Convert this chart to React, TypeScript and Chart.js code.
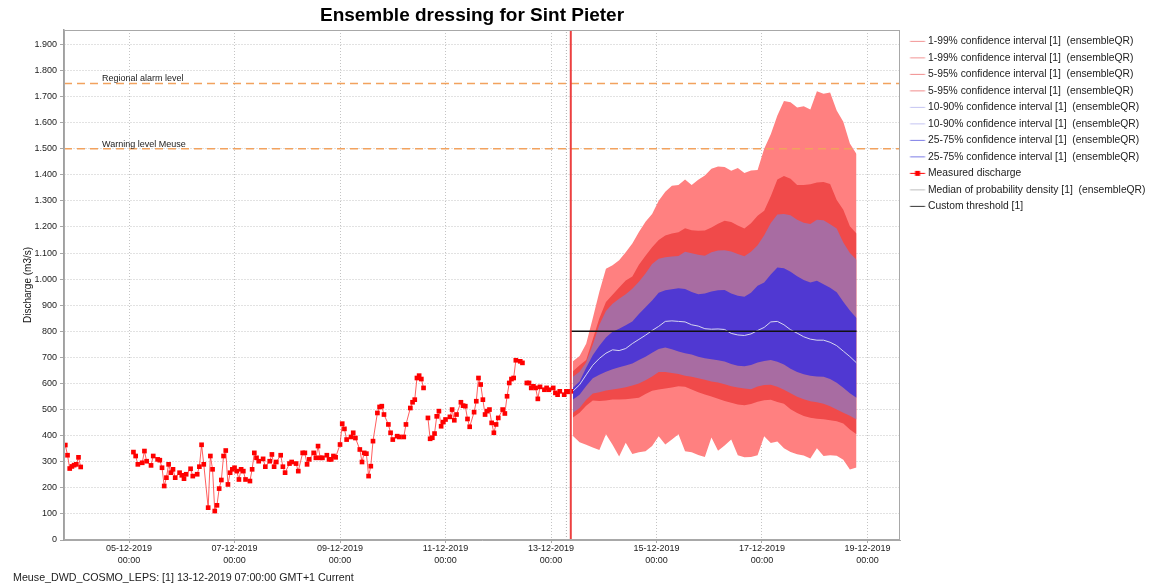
import React, { useEffect, useRef } from 'react';
import { Chart, registerables } from 'chart.js';

Chart.register(...registerables);

const FONT = "'Liberation Sans', Arial, sans-serif";
const TITLE = 'Ensemble dressing for Sint Pieter';
const FOOTNOTE = 'Meuse_DWD_COSMO_LEPS: [1] 13-12-2019 07:00:00 GMT+1 Current';

// x values are hours since 01-12-2019 00:00
const X_MIN = 66.4;
const X_MAX = 446.8;
const Y_MIN = 0;
const Y_MAX = 1955;

const xTickHours = [96, 144, 192, 240, 288, 336, 384, 432];
const xTickLabels = [
  ['05-12-2019', '00:00'],
  ['07-12-2019', '00:00'],
  ['09-12-2019', '00:00'],
  ['11-12-2019', '00:00'],
  ['13-12-2019', '00:00'],
  ['15-12-2019', '00:00'],
  ['17-12-2019', '00:00'],
  ['19-12-2019', '00:00'],
];
const yTickValues = [0, 100, 200, 300, 400, 500, 600, 700, 800, 900, 1000, 1100, 1200, 1300, 1400, 1500, 1600, 1700, 1800, 1900];

const measuredHours = [
  67, 68, 69, 70, 71, 72, 73, 74, 75,
  98, 99, 100, 102, 103, 104, 106, 107, 109, 110, 111, 112, 113, 114, 115, 116, 117, 119, 120, 121, 122, 124, 125, 127, 128, 129, 130,
  132, 133, 134, 135, 136, 137, 138, 139, 140, 141, 142, 143, 144, 145, 146, 147, 148, 149, 151, 152, 153, 154, 155, 157, 158, 160, 161,
  162, 163, 165, 166, 167, 169, 170, 172, 173, 175, 176, 177, 178, 180, 181, 182, 183, 184, 186, 187, 188, 189, 190, 192, 193, 194, 195,
  197, 198, 199, 201, 202, 203, 204, 205, 206, 207, 209, 210, 211, 212, 214, 215, 216, 218, 219, 221, 222, 224, 225, 226, 227, 228, 229,
  230, 231, 232, 233, 234, 235, 236, 237, 238, 239, 240, 242, 243, 244, 245, 247, 248, 249, 250, 251, 253, 254, 255, 256, 257, 258, 259,
  260, 261, 262, 263, 264, 266, 267, 268, 269, 270, 271, 272, 274, 275, 276, 277, 278, 279, 280, 281, 282, 283, 285, 286, 287, 289, 290,
  291, 292, 294, 295, 296, 297,
];
const measuredValues = [
  364, 325, 274, 282, 287, 290, 317, 280, null,
  337, 322, 290, 296, 341, 302, 286, 322, 309, 306, 277, 207, 239, 290, 258, 271, 239, 258, 248, 235, 252, 273, 245, 252, 281, 365, 290,
  124, 322, 271, 111, 133, 197, 230, 322, 343, 213, 258, 271, 277, 264, 232, 271, 264, 232, 226, 271, 334, 315, 302, 311, 281, 302, 328,
  281, 299, 325, 281, 258, 293, 299, 293, 264, 334, 334, 290, 309, 334, 315, 360, 315, 315, 325, 309, 309, 322, 317, 366, 446, 426, 385,
  395, 411, 391, 347, 299, 334, 331, 245, 283, 379, 487, 510, 513, 481, 443, 411, 385, 398, 395, 395, 443, 506, 528, 538, 621, 630, 617,
  583, null, 468, 388, 392, 408, 474, 494, 436, 452, 462, 472, 500, 459, 481, 528, 515, 513, 464, 434, 490, 532, 621, 596, 538, 481, 494,
  500, 449, 411, 443, 468, 500, 485, 551, 602, 617, 621, 689, 685, 679, null, 602, 602, 583, 589, 583, 541, 587, 576, 583, 576, 583, 564,
  557, 570, 557, 570, 568, 570,
];

const bandHours = [298, 301, 304, 307, 310, 313, 316, 319, 322, 325, 328, 331, 334, 337, 340, 343, 346, 349, 352, 355, 358, 361, 364, 367, 370, 373, 376, 379, 382, 385, 388, 391, 394, 397, 400, 403, 406, 409, 412, 415, 418, 421, 424, 427];
const p99 = [685, 705, 752, 850, 952, 1040, 1053, 1072, 1103, 1137, 1181, 1220, 1250, 1300, 1335, 1358, 1361, 1382, 1361, 1381, 1397, 1423, 1432, 1430, 1415, 1426, 1407, 1416, 1418, 1500, 1555, 1627, 1683, 1678, 1658, 1663, 1650, 1720, 1711, 1715, 1646, 1603, 1520, 1480];
const p95 = [647, 670, 690, 770, 850, 912, 940, 968, 995, 1010, 1055, 1090, 1122, 1150, 1167, 1175, 1180, 1195, 1187, 1185, 1186, 1198, 1212, 1224, 1219, 1206, 1194, 1214, 1243, 1262, 1318, 1382, 1395, 1385, 1361, 1361, 1364, 1370, 1372, 1365, 1303, 1266, 1203, 1175];
const p90 = [626, 645, 680, 748, 825, 878, 906, 925, 942, 963, 990, 1022, 1058, 1078, 1084, 1087, 1089, 1105, 1099, 1093, 1090, 1103, 1110, 1111, 1106, 1096, 1088, 1105, 1130, 1168, 1215, 1248, 1250, 1245, 1228, 1216, 1211, 1228, 1226, 1210, 1194, 1140, 1100, 1074];
const p75 = [584, 608, 660, 708, 745, 776, 798, 810, 823, 838, 866, 892, 918, 948, 957, 961, 965, 962, 951, 942, 945, 953, 957, 958, 945, 936, 932, 948, 975, 987, 1018, 1045, 1042, 1028, 1011, 997, 987, 994, 980, 967, 950, 913, 880, 851];
const median = [571, 595, 633, 670, 696, 716, 729, 726, 734, 753, 769, 785, 803, 819, 838, 840, 838, 836, 825, 820, 810, 808, 809, 807, 792, 786, 784, 790, 803, 815, 836, 838, 825, 806, 793, 779, 770, 766, 766, 758, 745, 724, 703, 679];
const p25 = [539, 557, 590, 620, 633, 645, 655, 662, 669, 677, 690, 702, 718, 732, 738, 731, 723, 716, 711, 702, 697, 693, 689, 684, 675, 668, 666, 671, 680, 686, 690, 683, 673, 656, 644, 635, 630, 627, 626, 617, 603, 584, 563, 545];
const p10 = [488, 506, 538, 562, 566, 573, 577, 581, 586, 592, 600, 612, 627, 644, 644, 640, 636, 630, 626, 620, 614, 608, 604, 597, 589, 585, 581, 578, 588, 594, 595, 587, 576, 563, 549, 540, 532, 528, 522, 513, 500, 488, 476, 462];
const p5 = [470, 488, 515, 535, 533, 535, 539, 539, 540, 542, 545, 560, 572, 577, 581, 585, 589, 587, 577, 566, 558, 550, 541, 533, 526, 519, 517, 521, 530, 536, 538, 529, 522, 501, 487, 475, 469, 465, 463, 459, 455, 447, 424, 405];
const p1 = [399, 375, 365, 355, 345, 405, 365, 320, 373, 330, 336, 340, 360, 398, 366, 385, 405, 340, 336, 326, 318, 393, 342, 362, 385, 325, 317, 318, 325, 398, 372, 378, 352, 337, 329, 324, 312, 352, 322, 325, 323, 308, 270, 278];

const thresholdHours = [297, 427];
const thresholdValues = [800, 800];
const levelValues = [1750, 1500];
const levelLabels = ['Regional alarm level', 'Warning level Meuse'];
const forecastT0Hour = 295;
const nowHour = 297;

const legendColors = ['#f29494', '#f29494', '#f08c8c', '#f08c8c', '#c4c4f2', '#c4c4f2', '#7c7ce6', '#7c7ce6', '#ff0000', '#bdbdbd', '#333333'];

const pts = (xs: number[], ys: (number | null)[]) => xs.map((x, i) => ({ x, y: ys[i] }));

const fmtThousands = (v: number) =>
  v >= 1000 ? `${Math.floor(v / 1000)}.${String(v % 1000).padStart(3, '0')}` : String(v);

function makeIcon(color: string, marker: boolean) {
  const c = document.createElement('canvas');
  c.width = 30;
  c.height = 9;
  const g = c.getContext('2d')!;
  g.strokeStyle = color;
  g.lineWidth = 1;
  g.beginPath();
  g.moveTo(10.5, 4.5);
  g.lineTo(25.5, 4.5);
  g.stroke();
  if (marker) {
    g.fillStyle = color;
    g.fillRect(15.5, 2, 5, 5);
  }
  return c;
}

const decorPlugin = {
  id: 'decor',
  afterDraw(chart: any) {
    const { ctx, chartArea, scales } = chart;
    ctx.save();
    ctx.strokeStyle = '#a8a8a8';
    ctx.lineWidth = 1;
    ctx.setLineDash([]);
    ctx.strokeRect(chartArea.left + 0.5, chartArea.top + 0.5, chartArea.width - 1, chartArea.height - 1);

    ctx.fillStyle = '#000';
    ctx.font = `bold 19px ${FONT}`;
    ctx.textAlign = 'center';
    ctx.textBaseline = 'middle';
    ctx.fillText(TITLE, 472, 16);

    ctx.font = `9px ${FONT}`;
    ctx.textAlign = 'left';
    ctx.textBaseline = 'alphabetic';
    ctx.fillStyle = '#222';
    levelLabels.forEach((t, i) => {
      ctx.fillText(t, chartArea.left + 38, scales.y.getPixelForValue(levelValues[i]) - 2);
    });

    ctx.font = `10.7px ${FONT}`;
    ctx.fillStyle = '#222';
    ctx.fillText(FOOTNOTE, 13, 581);
    ctx.restore();
  },
};

export default function App() {
  const ref = useRef<HTMLCanvasElement | null>(null);

  useEffect(() => {
    if (!ref.current) return;
    const icons = legendColors.map((c, i) => makeIcon(c, i === 8));
    const band = (label: string, values: number[], fill: any, bg: string, order: number) => ({
      label,
      data: pts(bandHours, values),
      borderColor: 'transparent',
      borderWidth: 0,
      backgroundColor: bg,
      fill,
      pointRadius: 0,
      order,
    });
    const l1 = '1-99% confidence interval [1]  (ensembleQR)';
    const l5 = '5-95% confidence interval [1]  (ensembleQR)';
    const l10 = '10-90% confidence interval [1]  (ensembleQR)';
    const l25 = '25-75% confidence interval [1]  (ensembleQR)';
    const datasets: any[] = [
      band(l1, p1, false, '#ff8080', 20),
      band(l1, p99, '-1', '#ff8080', 20),
      band(l5, p5, false, '#f04a4a', 19),
      band(l5, p95, '-1', '#f04a4a', 19),
      band(l10, p10, false, '#a86ca2', 18),
      band(l10, p90, '-1', '#a86ca2', 18),
      band(l25, p25, false, '#5038d2', 17),
      band(l25, p75, '-1', '#5038d2', 17),
      {
        label: 'Measured discharge',
        data: pts(measuredHours, measuredValues),
        borderColor: 'rgba(255,40,40,0.75)',
        borderWidth: 1,
        pointStyle: 'rect',
        pointRadius: 3.3,
        pointBackgroundColor: '#ff0000',
        pointBorderColor: '#ff0000',
        pointBorderWidth: 0,
        spanGaps: false,
        fill: false,
        order: 5,
      },
      {
        label: 'Median of probability density [1]  (ensembleQR)',
        data: pts(bandHours, median),
        borderColor: '#d6d6f0',
        borderWidth: 1,
        pointRadius: 0,
        fill: false,
        order: 10,
      },
      {
        label: 'Custom threshold [1]',
        data: pts(thresholdHours, thresholdValues),
        borderColor: '#111111',
        borderWidth: 1.5,
        pointRadius: 0,
        fill: false,
        order: 9,
      },
      ...levelValues.map((v, i) => ({
        label: levelLabels[i],
        data: pts([X_MIN, X_MAX], [v, v]),
        borderColor: '#f2a25e',
        borderWidth: 1.5,
        borderDash: [8, 5],
        pointRadius: 0,
        fill: false,
        order: 8,
      })),
      {
        label: 'T0',
        data: pts([forecastT0Hour, forecastT0Hour], [Y_MIN, Y_MAX]),
        borderColor: '#b0b0b0',
        borderWidth: 1,
        borderDash: [1, 2],
        pointRadius: 0,
        fill: false,
        order: 7,
      },
      {
        label: 'Now',
        data: pts([nowHour, nowHour], [Y_MIN, Y_MAX]),
        borderColor: '#ec4040',
        borderWidth: 2,
        pointRadius: 0,
        fill: false,
        order: 4,
      },
    ];

    const chart = new Chart(ref.current, {
      type: 'line',
      data: { datasets },
      options: {
        animation: false,
        responsive: false,
        devicePixelRatio: 1,
        layout: { padding: { top: 30, left: 0, right: 0, bottom: 0 } },
        elements: { line: { tension: 0 } },
        plugins: {
          tooltip: { enabled: false },
          title: { display: false },
          legend: {
            position: 'right',
            align: 'start',
            maxWidth: 251,
            onClick: () => {},
            labels: {
              usePointStyle: true,
              pointStyleWidth: 16.65,
              padding: 6.2,
              color: '#222',
              font: { family: FONT, size: 10.3 },
              generateLabels: (ch: any) =>
                legendColors.map((_, i) => ({
                  text: ch.data.datasets[i].label,
                  datasetIndex: i,
                  pointStyle: icons[i],
                  fillStyle: 'transparent',
                  strokeStyle: 'transparent',
                  lineWidth: 0,
                  hidden: false,
                  fontColor: '#222',
                })),
            },
          },
        },
        scales: {
          x: {
            type: 'linear',
            min: X_MIN,
            max: X_MAX,
            afterBuildTicks: (axis: any) => {
              axis.ticks = xTickHours.map((v) => ({ value: v }));
            },
            afterFit: (axis: any) => {
              axis.height = 48;
            },
            ticks: {
              autoSkip: false,
              maxRotation: 0,
              padding: 0,
              color: '#222',
              font: { family: FONT, size: 9, lineHeight: 1.3 },
              callback: (v: any) => xTickLabels[xTickHours.indexOf(Number(v))] ?? '',
            },
            grid: { color: '#c4c4c4', lineWidth: 1, tickLength: 3, tickColor: '#a8a8a8' },
            border: { display: true, color: '#a8a8a8', width: 1, dash: [1, 2] },
          },
          y: {
            type: 'linear',
            min: Y_MIN,
            max: Y_MAX,
            afterBuildTicks: (axis: any) => {
              axis.ticks = yTickValues.map((v) => ({ value: v }));
            },
            afterFit: (axis: any) => {
              axis.width = 64;
            },
            ticks: {
              padding: 3,
              color: '#222',
              font: { family: FONT, size: 9 },
              callback: (v: any) => fmtThousands(Number(v)),
            },
            grid: { color: '#c4c4c4', lineWidth: 1, tickLength: 4, tickColor: '#a8a8a8' },
            border: { display: true, color: '#a0a0a0', width: 1.5, dash: [1, 2] },
            title: {
              display: true,
              text: 'Discharge (m3/s)',
              color: '#111',
              font: { family: FONT, size: 10 },
              padding: { top: 22.5, bottom: 0 },
            },
          },
        },
      } as any,
      plugins: [decorPlugin],
    });
    return () => chart.destroy();
  }, []);

  return (
    <div style={{ position: 'fixed', left: 0, top: 0, width: 1151, height: 588, background: '#fff' }}>
      <canvas ref={ref} width={1151} height={588} style={{ display: 'block' }} />
    </div>
  );
}
